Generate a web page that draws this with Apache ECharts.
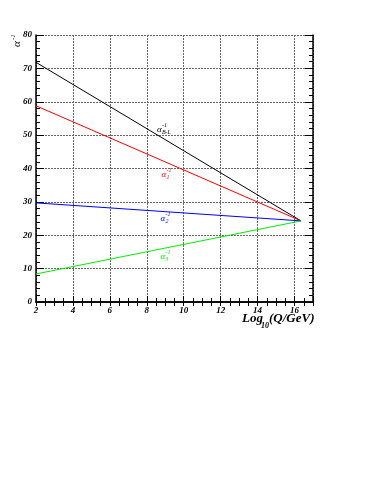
<!DOCTYPE html>
<html>
<head>
<meta charset="utf-8">
<script src="https://cdn.jsdelivr.net/npm/echarts@6/dist/echarts.min.js"></script>
<style>
  html, body { margin: 0; padding: 0; background: #fff; }
  #chart { width: 374px; height: 484px; }
</style>
</head>
<body>
<div id="chart"></div>
<script>
// running couplings: start at log10(Q)=2, meet at the unification scale
const xPoints = [2, 16.35]
const bl = [71.8, 24.3]
const a1 = [58.8, 24.3]
const a2 = [29.7, 24.3]
const a3 = [8.4, 24.3]

const seriesColors = ['#000000', '#ff0000', '#0000ff', '#00ee00']

// curve labels (subscript text, x, y in data units)
const labelSubs = ['B-L', '1', '2', '3']
const labelX = [8.55, 8.8, 8.74, 8.74]
const labelY = [51.6, 38.1, 24.9, 13.6]

const xTickLabels = [2, 4, 6, 8, 10, 12, 14, 16]
const yTickLabels = [0, 10, 20, 30, 40, 50, 60, 70, 80]

const serif = '"Liberation Serif", "DejaVu Serif", serif'
const tickFont = { fontFamily: serif, fontStyle: 'italic', fontWeight: 'bold', fontSize: 9, color: '#000' }

const chart = echarts.init(document.getElementById('chart'))

const gridLine = { show: true, lineStyle: { color: '#666', type: [2, 1], width: 1 } }
const frame = { show: true, lineStyle: { color: '#000', width: 1.5 } }

const lineSeries = [bl, a1, a2, a3].map((vals, i) => ({
  type: 'line',
  data: xPoints.map((x, j) => [x, vals[j]]),
  symbol: 'none',
  silent: true,
  lineStyle: { color: seriesColors[i], width: 1 },
  z: 3,
}))

const labelSeries = {
  type: 'custom',
  silent: true,
  data: labelSubs.map((s, i) => [labelX[i], labelY[i], i]),
  renderItem: function (params, api) {
    const p = api.coord([api.value(0), api.value(1)])
    const i = api.value(2)
    const c = seriesColors[i]
    return {
      type: 'group',
      children: [
        { type: 'text', x: p[0], y: p[1], style: { text: 'α', fill: c, font: 'italic 9px ' + serif, align: 'left', verticalAlign: 'middle' } },
        { type: 'text', x: p[0] + 5, y: p[1] - 4, style: { text: '-1', fill: c, font: 'italic 6px ' + serif, align: 'left', verticalAlign: 'middle' } },
        { type: 'text', x: p[0] + 5, y: p[1] + 2.5, style: { text: labelSubs[i], fill: c, font: 'italic 6px ' + serif, align: 'left', verticalAlign: 'middle' } },
      ],
    }
  },
  z: 4,
}

const option = {
  animation: false,
  backgroundColor: '#fff',
  grid: { left: 36, top: 35, width: 277, height: 267 },
  xAxis: [
    {
      type: 'value', position: 'bottom', min: 2, max: 17, interval: 2,
      axisLine: frame,
      axisTick: { show: true, inside: true, length: 6, lineStyle: { color: '#000' } },
      minorTick: { show: true, splitNumber: 4, length: 4, lineStyle: { color: '#000' } },
      splitLine: gridLine,
      axisLabel: Object.assign({ margin: 4, showMaxLabel: false, formatter: v => xTickLabels.includes(v) ? String(v) : '' }, tickFont),
    },
    {
      type: 'value', position: 'top', min: 2, max: 17, interval: 0.5,
      axisLine: frame,
      axisTick: { show: true, inside: true, length: 4, lineStyle: { color: '#000' } },
      splitLine: { show: false },
      axisLabel: { show: false },
    },
  ],
  yAxis: [
    {
      type: 'value', position: 'left', min: 0, max: 80, interval: 10,
      axisLine: frame,
      axisTick: { show: true, inside: true, length: 8, lineStyle: { color: '#000' } },
      minorTick: { show: true, splitNumber: 5, length: 4, lineStyle: { color: '#000' } },
      splitLine: gridLine,
      axisLabel: Object.assign({ margin: 4, formatter: v => yTickLabels.includes(v) ? String(v) : '' }, tickFont),
    },
    {
      type: 'value', position: 'right', min: 0, max: 80, interval: 10,
      axisLine: frame,
      axisTick: { show: true, inside: true, length: 8, lineStyle: { color: '#000' } },
      minorTick: { show: true, splitNumber: 5, length: 4, lineStyle: { color: '#000' } },
      splitLine: { show: false },
      axisLabel: { show: false },
    },
  ],
  series: [...lineSeries, labelSeries],
  graphic: [
    {
      type: 'group', x: 17, y: 47, rotation: Math.PI / 2,
      children: [
        { type: 'text', x: 0, y: 0, style: { text: 'α', fill: '#000', font: 'italic 11px ' + serif, verticalAlign: 'middle' } },
        { type: 'text', x: 7, y: -4, style: { text: '-1', fill: '#000', font: 'italic 7px ' + serif, verticalAlign: 'middle' } },
      ],
    },
    {
      type: 'group', x: 242, y: 319,
      children: [
        { type: 'text', x: 0, y: 0, style: { text: 'Log', fill: '#000', font: 'italic bold 13px ' + serif, verticalAlign: 'middle' } },
        { type: 'text', x: 19, y: 7, style: { text: '10', fill: '#000', font: 'italic bold 8px ' + serif, verticalAlign: 'middle' } },
        { type: 'text', x: 27, y: 0, style: { text: '(Q/GeV)', fill: '#000', font: 'italic bold 13px ' + serif, verticalAlign: 'middle' } },
      ],
    },
  ],
}

chart.setOption(option)
</script>
</body>
</html>
